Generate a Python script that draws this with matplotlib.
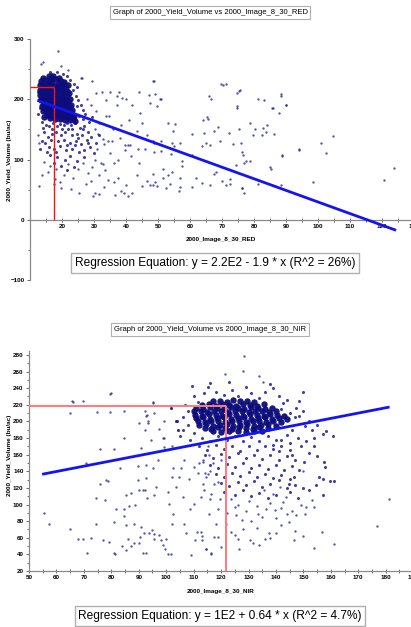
import matplotlib.pyplot as plt
from matplotlib.ticker import MultipleLocator

plt.rcParams['font.family'] = ['Liberation Sans', 'DejaVu Sans']

# ---------------- RED panel (top) ----------------
red_title = "Graph of 2000_Yield_Volume vs 2000_Image_8_30_RED"
red_xlabel = "2000_Image_8_30_RED"
red_equation = "Regression Equation: y = 2.2E2 - 1.9 * x (R^2 = 26%)"

# dense core of the cloud
red_core = [
    (13.5, 230), (14.2, 236), (15.0, 232), (15.8, 238), (16.5, 234), (17.3, 239), (18.1, 233), (19.0, 236),
    (19.8, 231), (20.6, 228), (13.2, 224), (14.0, 226), (14.8, 221), (15.5, 227), (16.2, 223), (17.0, 228),
    (17.8, 222), (18.6, 226), (19.4, 222), (20.2, 225), (21.0, 220), (21.8, 223), (13.0, 215), (13.7, 218),
    (14.5, 213), (15.2, 219), (16.0, 214), (16.8, 217), (17.5, 212), (18.3, 218), (19.1, 213), (19.9, 216),
    (20.7, 211), (21.5, 214), (22.3, 210), (13.1, 207), (13.9, 210), (14.6, 205), (15.4, 209), (16.1, 204),
    (16.9, 208), (17.7, 203), (18.5, 207), (19.3, 202), (20.1, 206), (20.9, 201), (21.7, 205), (22.5, 200),
    (13.4, 198), (14.1, 201), (14.9, 196), (15.7, 200), (16.4, 195), (17.2, 199), (18.0, 194), (18.8, 198),
    (19.6, 193), (20.4, 197), (21.2, 192), (22.0, 196), (22.8, 191), (13.6, 189), (14.4, 192), (15.1, 187),
    (15.9, 191), (16.7, 186), (17.5, 190), (18.3, 185), (19.1, 189), (19.9, 184), (20.7, 188), (21.5, 183),
    (22.3, 187), (23.2, 182), (14.0, 180), (14.8, 183), (15.6, 178), (16.4, 182), (17.2, 177), (18.0, 181),
    (18.8, 176), (19.6, 180), (20.4, 175), (21.2, 179), (22.0, 174), (22.8, 178), (23.6, 173), (14.5, 171),
    (15.3, 174), (16.1, 169), (16.9, 173), (17.7, 168), (18.5, 172), (19.3, 167), (20.1, 171), (20.9, 166),
    (21.7, 170), (22.5, 165), (23.4, 169), (24.2, 164),
]

# medium density around the core
red_spread = [
    (12.8, 200), (12.5, 212), (13.0, 185), (12.6, 175), (23.5, 215), (24.3, 205), (25.0, 198), (24.6, 188),
    (25.8, 190), (26.5, 182), (23.8, 226), (24.8, 220), (22.5, 232), (21.5, 238), (20.4, 242), (18.5, 245),
    (16.2, 246), (26.5, 168), (27.3, 175), (25.2, 172), (24.0, 160), (22.8, 158), (21.6, 160), (20.5, 157),
    (19.4, 159), (18.3, 156), (17.1, 160), (16.0, 155), (15.0, 158), (14.2, 152), (13.8, 162), (23.2, 150),
    (25.5, 152), (27.0, 155), (28.5, 162), (29.5, 170), (28.0, 145), (26.2, 140), (24.8, 143), (23.0, 140),
    (21.0, 145), (19.8, 140), (18.2, 146), (16.8, 142), (15.5, 138), (14.5, 145), (13.6, 130), (14.8, 128),
    (16.5, 132), (18.8, 130), (20.6, 133), (22.4, 128), (24.3, 131), (26.0, 126), (27.8, 133), (29.2, 138),
    (30.5, 128), (31.5, 140), (15.8, 120), (17.6, 118), (19.5, 122), (21.2, 115), (23.0, 118), (25.2, 112),
    (27.0, 116), (28.8, 120), (30.0, 110), (16.2, 108), (18.5, 104), (20.8, 100), (22.5, 106), (24.6, 98),
    (26.8, 104), (17.5, 95), (19.8, 90), (23.8, 88), (21.5, 82), (15.2, 112), (13.2, 118), (22.0, 150),
    (24.0, 124), (26.5, 150), (20.0, 150), (17.0, 150), (25.0, 135), (28.0, 128), (21.5, 124), (18.0, 112),
]

# sparse points
red_sparse = [
    (18.8, 280), (14.2, 261), (13.4, 258), (19.6, 256), (26.0, 235), (16.5, 244), (21.8, 248), (26.2, 235),
    (12.8, 128), (12.4, 140), (14.4, 96), (13.6, 74), (12.9, 56), (17.8, 68), (19.4, 63), (19.6, 53),
    (22.9, 51), (25.2, 44), (17.5, 60), (15.5, 80), (16.2, 90), (18.0, 85), (20.5, 75), (22.0, 92),
    (23.5, 70), (25.0, 85), (26.5, 95), (28.0, 78), (29.5, 88), (30.2, 100), (31.6, 75), (32.1, 94),
    (32.8, 93), (34.4, 66), (36.1, 95), (36.3, 63), (37.5, 70), (40.1, 58), (43.5, 75), (45.0, 56),
    (46.5, 65), (47.5, 58), (30.2, 45), (39.5, 44), (42.0, 44), (31.6, 42), (29.8, 40), (38.5, 48),
    (36.5, 41), (40.5, 40), (33.0, 55), (27.5, 60), (29.0, 65), (33.5, 82), (35.0, 110), (37.5, 100),
    (39.8, 115), (41.5, 105), (44.0, 95), (31.0, 118), (33.0, 125), (35.5, 130), (38.0, 135), (40.5, 124),
    (43.6, 118), (46.0, 118), (48.6, 128), (34.5, 130), (30.7, 211), (32.5, 212), (35.1, 212), (37.7, 212),
    (33.8, 198), (38.8, 202), (37.3, 190), (33.9, 173), (34.8, 172), (31.6, 161), (30.2, 151), (31.3, 143),
    (32.9, 134), (39.7, 124), (41.1, 124), (36.0, 150), (38.5, 158), (41.0, 165), (43.5, 148), (45.0, 160),
    (46.5, 140), (29.0, 190), (30.5, 180), (27.8, 200), (29.5, 230), (44.2, 212), (48.8, 231), (47.3, 207),
    (50.6, 200), (37.1, 205), (40.0, 200), (48.5, 231), (49.0, 209), (47.5, 194), (49.8, 189), (50.8, 200),
    (53.2, 161), (55.4, 159), (54.8, 148), (48.3, 131), (50.8, 131), (54.4, 128), (56.9, 127), (54.9, 123),
    (50.8, 114), (48.7, 113), (54.1, 109), (60.5, 142), (60.5, 107), (57.4, 98), (57.6, 90), (51.7, 84),
    (54.3, 80), (53.0, 75), (48.3, 76), (51.7, 69), (53.6, 59), (49.1, 63), (48.3, 58), (49.6, 56),
    (52.6, 53), (56.9, 54), (56.7, 48), (57.0, 69), (62.0, 69), (60.6, 54), (63.9, 61), (66.4, 57),
    (63.9, 122), (65.0, 127), (66.3, 124), (64.1, 166), (65.5, 167), (65.2, 171), (66.6, 200), (67.5, 148),
    (68.9, 154), (64.5, 144), (69.4, 131), (72.2, 144), (73.4, 125), (67.5, 76), (68.1, 79), (69.9, 64),
    (71.1, 58), (72.5, 67), (72.5, 60), (69.7, 226), (70.3, 224), (71.4, 226), (74.8, 210), (75.5, 216),
    (74.8, 189), (75.3, 151), (76.0, 128), (76.3, 112), (77.0, 95), (77.4, 98), (78.8, 98), (74.5, 91),
    (76.3, 53), (76.8, 44), (78.8, 161), (79.8, 140), (81.4, 200), (83.1, 199), (82.9, 153), (83.8, 145),
    (81.2, 60), (85.3, 85), (85.9, 186), (87.8, 178), (88.3, 208), (90.1, 191), (86.2, 143), (88.9, 105),
    (88.3, 58), (94.2, 115), (98.3, 63), (100.9, 128), (102.4, 110), (104.7, 139), (120.6, 66), (123.9, 86),
    (84.0, 157), (80.3, 151), (82.4, 140), (76.5, 107), (76.4, 53), (85.0, 87), (88.6, 107), (94.0, 117),
    (88.3, 205), (89.9, 190), (85.7, 186), (74.7, 186), (75.4, 213), (66.0, 205), (42.0, 190), (44.5, 178),
]

red_intercept = 222.0
red_slope = -1.925
red_fit_x = [12.7, 124.0]
red_mean_x = 17.5
red_mean_y = 221.0

# ---------------- NIR panel (bottom) ----------------
nir_title = "Graph of 2000_Yield_Volume vs 2000_Image_8_30_NIR"
nir_xlabel = "2000_Image_8_30_NIR"
nir_equation = "Regression Equation: y = 1E2 + 0.64 * x (R^2 = 4.7%)"

nir_core = [
    (117, 224), (119.5, 225), (122, 223), (124.5, 226), (127, 224), (129.5, 225), (132, 223),
    (113, 220), (115.5, 221), (118, 219), (120.5, 221), (123, 220), (125.5, 219), (128, 221), (130.5, 220),
    (133, 219), (135.5, 221),
    (111, 216), (113.5, 215), (116, 217), (118.5, 216), (121, 215), (123.5, 217), (126, 216), (128.5, 215),
    (131, 217), (133.5, 216), (136, 215), (138.5, 216),
    (110, 212), (112.5, 213), (115, 211), (117.5, 212), (120, 213), (122.5, 211), (125, 212), (127.5, 213),
    (130, 211), (132.5, 212), (135, 213), (137.5, 211), (140, 212),
    (110.5, 208), (113, 207), (115.5, 209), (118, 208), (120.5, 207), (123, 209), (125.5, 208), (128, 207),
    (130.5, 209), (133, 208), (135.5, 207), (138, 209), (140.5, 208), (143, 207),
    (111, 204), (113.5, 205), (116, 203), (118.5, 204), (121, 205), (123.5, 203), (126, 204), (128.5, 205),
    (131, 203), (133.5, 204), (136, 205), (138.5, 203), (141, 204), (144, 203),
    (111.5, 200), (114, 199), (116.5, 201), (119, 200), (121.5, 199), (124, 201), (126.5, 200), (129, 199),
    (131.5, 201), (134, 200), (136.5, 199), (139, 201), (142, 199),
    (112, 196), (114.5, 197), (117, 195), (119.5, 196), (122, 197), (124.5, 195), (127, 196), (129.5, 197),
    (132, 195), (134.5, 196), (137, 197), (140, 195),
    (114, 192), (116.5, 191), (119, 193), (121.5, 192), (124, 191), (126.5, 193), (129, 192), (131.5, 191),
    (134, 193), (137, 192),
    (117, 188), (120, 187), (123, 189), (126, 188), (129, 187), (132, 189), (135, 188),
]

nir_spread = [
    (113.9, 234), (115.1, 241), (110.3, 230), (109.4, 243), (111.5, 223), (118, 236), (121, 232), (124, 238),
    (126, 230), (129, 241), (131, 234), (134, 228), (136, 236), (139.1, 240), (142.7, 222), (141, 230),
    (144, 226), (147.3, 216), (148.5, 225), (150, 235), (138, 245), (116, 246), (123, 248),
    (142, 215), (145, 210), (147, 205), (148.5, 206), (150, 212), (152, 200), (150.7, 194), (153, 190),
    (155, 196), (154, 180), (157, 185), (158.3, 188), (160.7, 182), (146, 190), (144, 184), (148, 180),
    (151, 176), (153.7, 170), (149, 170), (145, 174), (142, 178), (139, 172), (141, 165), (146, 160),
    (152.2, 162), (150.4, 151), (155, 158), (157.6, 151), (158, 145), (148.5, 141), (146.7, 133), (144.7, 125),
    (155.8, 133), (157, 131), (159.7, 128), (161, 128), (154.6, 123), (152.2, 117), (157, 111),
    (113, 180), (116, 176), (119, 182), (122, 178), (125, 183), (128, 176), (131, 181), (134, 177), (137, 182),
    (140, 178), (112, 170), (115, 166), (118, 172), (121, 167), (124, 171), (127, 165), (130, 170), (133, 166),
    (136, 171), (139, 167), (142, 170), (145, 166), (114, 160), (117, 156), (120, 161), (123, 157), (126, 162),
    (129, 156), (132, 160), (135, 155), (138, 159), (141, 154), (144, 158), (147, 153), (116, 148), (119, 144),
    (122, 149), (125, 145), (128, 150), (131, 144), (134, 148), (137, 143), (140, 147), (143, 142), (146, 146),
    (118, 137), (121, 133), (124, 138), (127, 134), (130, 139), (133, 133), (136, 137), (139, 132), (142, 136),
    (145, 131), (120, 126), (123, 122), (126, 127), (129, 123), (132, 128), (135, 121), (138, 125), (141, 130),
    (144, 120), (147, 124), (121, 115), (125, 112), (128, 117), (131, 110), (134, 114), (137, 108), (140, 112),
    (145, 115), (148, 108), (150, 120),
    (104.4, 190), (106.3, 190), (107.8, 196), (103.6, 201), (101.7, 216), (103.8, 200), (106, 205),
    (108, 212), (107, 220), (105, 182), (108.5, 178), (110, 186),
]

nir_sparse = [
    (55.3, 90), (57.2, 77), (64.8, 70), (66, 223), (69.6, 224), (79.7, 233), (74.7, 211), (79.7, 211),
    (84.5, 212), (76, 167), (80.8, 167), (70.8, 150), (75.9, 125), (77.9, 129), (78.9, 128), (74.4, 108),
    (77.7, 105), (68, 58), (69.6, 58), (72.7, 60), (71.2, 42), (74.3, 77), (76.9, 57), (79.1, 55),
    (80.9, 42), (81.5, 40), (80.9, 79), (81.8, 95), (84.6, 95), (85.2, 112), (87.2, 114), (89.6, 129),
    (86.4, 98), (84.8, 86), (85.5, 75), (88.3, 77), (88.8, 99), (88.2, 54), (86, 58), (83.9, 50),
    (85.4, 45), (87.2, 50), (90.8, 73), (91.8, 66), (90.2, 54), (91.6, 42), (92.6, 42), (93.9, 66),
    (94.7, 69), (95.5, 64), (90, 117), (91.5, 117), (92.4, 118), (93, 108), (95.7, 112), (96.3, 121),
    (89.6, 146), (92.7, 148), (92.3, 190), (93.3, 198), (93, 208), (95.5, 210), (94.3, 178), (99.1, 200),
    (98.7, 180), (97.3, 191), (99.1, 169), (101.7, 216), (103.6, 201), (104.4, 190), (90.6, 61), (95.4, 58),
    (97.5, 63), (98.1, 57), (98.7, 51), (99.5, 47), (100.5, 41), (101.8, 40), (99.8, 58), (102.1, 77),
    (102.4, 89), (101.2, 101), (100.8, 115), (103.6, 121), (102, 133), (102.6, 144), (104.8, 133), (105.4, 144),
    (106, 109), (106.6, 77), (107.2, 66), (109, 39), (110.5, 57), (111.1, 67), (112.5, 67), (113, 62),
    (114.5, 47), (116.3, 41), (117.3, 61), (118.1, 77), (115.7, 89), (108.8, 95), (110.3, 101), (112.7, 109),
    (113.9, 117), (113.3, 125), (116.1, 107), (117.5, 125), (111.5, 138), (114.3, 138), (115.3, 137),
    (116.1, 140), (108.4, 131), (110, 145), (112.1, 150), (113.3, 154), (115.7, 160), (115.1, 170),
    (106.6, 154), (92.1, 212), (92.7, 206), (93.5, 200), (90, 198), (95.3, 223), (84.8, 180), (90.8, 168),
    (99.1, 180), (102, 171), (83, 144), (92.7, 132), (95.1, 144), (97, 153), (65.5, 224), (64.9, 210),
    (79.8, 234), (95.2, 222), (127.9, 261), (128.5, 279), (121.3, 257), (134, 255), (135.2, 247),
    (154, 97), (149.2, 99), (151, 97), (143.5, 109), (142.5, 103), (141.3, 121), (138.8, 113), (135.8, 117),
    (139.5, 93), (136.4, 95), (133.4, 89), (131, 80), (127.7, 81), (125.5, 87), (121.9, 77), (123.7, 67),
    (124.9, 63), (126.7, 46), (130.4, 57), (131.6, 54), (134, 51), (137.6, 66), (140.1, 66), (144.9, 79),
    (147.3, 87), (150.7, 89), (146.5, 57), (154, 48), (156.8, 67), (161.3, 53), (176.8, 74), (181.3, 107),
    (124.9, 97), (123.7, 107), (119.5, 107), (116.4, 113), (118.8, 127), (114.6, 133), (113.4, 151),
    (117, 150), (120, 154), (116.4, 42), (114.6, 47), (113.2, 57), (120, 49), (118.8, 61),
    (126, 100), (130, 104), (133, 98), (138, 102), (142, 96), (146, 92), (129, 92), (135, 85), (140, 84),
    (144, 88), (128, 70), (133, 72), (138, 60), (142, 75), (147, 68), (150, 62), (136, 58), (126, 58),
    (122, 90), (119, 95), (150, 140), (153, 105),
]

nir_intercept = 101.4
nir_slope = 0.639
nir_fit_x = [55.3, 180.9]
nir_mean_x = 121.8
nir_mean_y = 218.0

W, H = 411, 627


def fig_xy(px, py):
    return px / W, 1 - py / H


def draw_panel(ax, core, spread, sparse, b0, b1, fit_x, mx, my, ybase, red_col, red_lw):
    styles = ((sparse, 1.7, '#2a2a98', 0.8),
              (spread, 2.2, '#1e1e90', 0.85),
              (core, 4.6, '#0c0c7a', 0.95))
    for pts, ms, col, a in styles:
        xs = [p[0] for p in pts]
        ys = [p[1] for p in pts]
        ax.plot(xs, ys, 'o', ms=ms, mew=0, color=col, alpha=a, zorder=2)
    x0 = ax.get_xlim()[0]
    ax.plot([x0, mx], [my, my], color=red_col, lw=red_lw, zorder=3, solid_capstyle='butt')
    ax.plot([mx, mx], [ybase, my], color=red_col, lw=red_lw, zorder=3, solid_capstyle='butt')
    fy = [b0 + b1 * x for x in fit_x]
    ax.plot(fit_x, fy, color='#1414f0', lw=2.0, zorder=4)
    for s in ('top', 'right'):
        ax.spines[s].set_visible(False)
    for s in ('left', 'bottom'):
        ax.spines[s].set_color('#8a8a8a')
        ax.spines[s].set_linewidth(0.9)
    ax.tick_params(which='both', colors='#555555', labelcolor='black', labelsize=4.5, width=0.6,
                   pad=1.5)
    ax.tick_params(axis='y', which='major', length=2.5, direction='out')
    ax.tick_params(axis='y', which='minor', length=1.5, direction='out')
    ax.tick_params(axis='x', which='both', length=2.5, direction='inout')
    for lab in ax.get_xticklabels() + ax.get_yticklabels():
        lab.set_fontweight('bold')
    ax.patch.set_alpha(0)


fig = plt.figure(figsize=(W / 100, H / 100), dpi=100)

# top panel
ax1 = fig.add_axes([30 / W, (H - 280) / H, 125 * 3.2 / W, 241 / H])
ax1.set_xlim(10, 135)
ax1.set_ylim(-100, 300)
ax1.spines['bottom'].set_position(('data', 0))
ax1.xaxis.set_major_locator(MultipleLocator(10))
ax1.xaxis.set_minor_locator(MultipleLocator(5))
ax1.yaxis.set_major_locator(MultipleLocator(100))
ax1.yaxis.set_minor_locator(MultipleLocator(50))
ax1.set_xticks([t for t in range(20, 140, 10)])
draw_panel(ax1, red_core, red_spread, red_sparse, red_intercept, red_slope, red_fit_x,
           red_mean_x, red_mean_y, 0, '#ff1010', 1.0)

# bottom panel
ax2 = fig.add_axes([29 / W, 56 / H, 145 * 2.744 / W, 265 * 0.831 / H])
ax2.set_xlim(50, 195)
ax2.set_ylim(20, 285)
ax2.xaxis.set_major_locator(MultipleLocator(10))
ax2.xaxis.set_minor_locator(MultipleLocator(5))
ax2.set_yticks(list(range(20, 281, 20)))
ax2.yaxis.set_minor_locator(MultipleLocator(10))
draw_panel(ax2, nir_core, nir_spread, nir_sparse, nir_intercept, nir_slope, nir_fit_x,
           nir_mean_x, nir_mean_y, 20, '#ff7a7a', 1.4)

# titles, axis labels and equation boxes in figure pixels
title_box = dict(boxstyle='square,pad=0.35', fc='white', ec='#b0b0b0', lw=0.8)
eq_box = dict(boxstyle='square,pad=0.3', fc='white', ec='#b0b0b0', lw=1.0)
for title, ty in ((red_title, 12.5), (nir_title, 329.5)):
    fig.text(*fig_xy(210, ty), title, ha='center', va='center', fontsize=5.5, bbox=title_box)
for lab, (lx, ly) in ((red_xlabel, (221, 240)), (nir_xlabel, (221, 592))):
    fig.text(*fig_xy(lx, ly), lab, ha='center', va='center', fontsize=4.6, fontweight='bold')
for ly in (160, 455):
    fig.text(*fig_xy(9, ly), "2000_Yield_Volume (bu/ac)", ha='center', va='center', rotation=90,
             fontsize=4.6, fontweight='bold')
for eq, (ex, ey) in ((red_equation, (215, 263)), (nir_equation, (220, 616))):
    fig.text(*fig_xy(ex, ey), eq, ha='center', va='center', fontsize=8.6, bbox=eq_box)

fig.savefig('out.png', dpi=100)
